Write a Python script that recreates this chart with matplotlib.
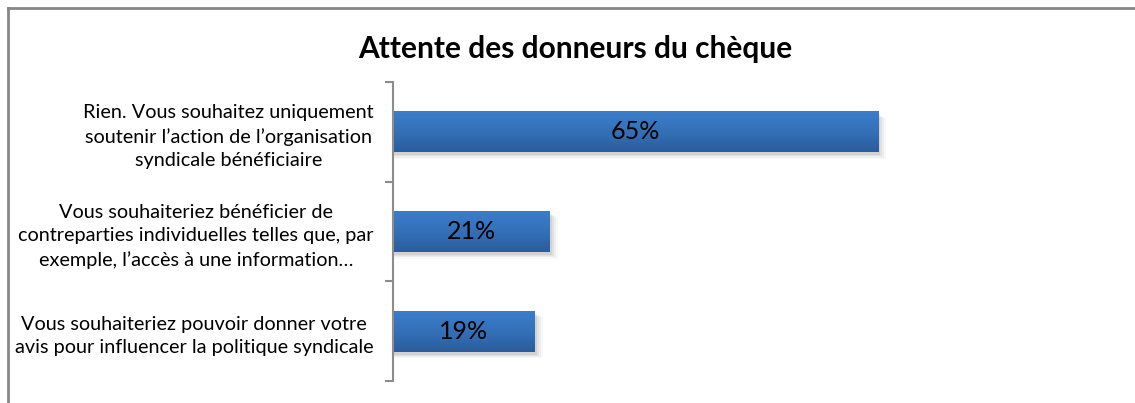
import matplotlib
matplotlib.use("Agg")
import matplotlib.pyplot as plt
import numpy as np
from matplotlib.colors import LinearSegmentedColormap
from matplotlib.patches import Rectangle
from matplotlib.lines import Line2D

# data
categories = [
    "Rien. Vous souhaitez uniquement\nsoutenir l\u2019action de l\u2019organisation\nsyndicale b\u00e9n\u00e9ficiaire",
    "Vous souhaiteriez b\u00e9n\u00e9ficier de\ncontreparties individuelles telles que, par\nexemple, l\u2019acc\u00e8s \u00e0 une information\u2026",
    "Vous souhaiteriez pouvoir donner votre\navis pour influencer la politique syndicale",
]
values = [65, 21, 19]
labels = ["65%", "21%", "19%"]
title = "Attente des donneurs du ch\u00e8que"

plt.rcParams['font.family'] = ['Lato', 'DejaVu Sans']

fig = plt.figure(figsize=(11.35, 4.03), dpi=100)
W, H = 1135, 403
px = 7.465  # pixels per percent
left_px, top_px, bot_px, right_px = 393, 82, 381, 1125
ax = fig.add_axes([left_px / W, 1 - bot_px / H, (right_px - left_px) / W, (bot_px - top_px) / H])

# outer chart frame (top and left edges visible)
fig.add_artist(Line2D([8 / W, 1], [1 - 8 / H, 1 - 8 / H], color="#878787", lw=2, transform=fig.transFigure))
fig.add_artist(Line2D([8 / W, 8 / W], [0, 1 - 8 / H], color="#878787", lw=2, transform=fig.transFigure))

cmap = LinearSegmentedColormap.from_list("bar", ["#3B7DCB", "#3470B8", "#2B5C9C"])
grad = np.linspace(0, 1, 100).reshape(-1, 1)
bh = 0.41

for i, v in enumerate(values):
    # soft shadow
    for k, a in enumerate([0.10, 0.08, 0.06, 0.04]):
        off = 0.3 + 0.25 * k
        ax.add_patch(Rectangle((0, i - bh / 2 + 0.03 + 0.012 * k), v + off, bh,
                               facecolor="#555555", alpha=a, edgecolor="none", zorder=1))
    ax.imshow(grad, cmap=cmap, aspect="auto", extent=(0, v, i + bh / 2, i - bh / 2),
              zorder=2, interpolation="bilinear")
    ax.text(v / 2, i, labels[i], ha="center", va="center", fontsize=18, color="black", zorder=3)

ax.set_xlim(0, (right_px - left_px) / px)
ax.set_ylim(2.5, -0.5)

for s in ["top", "right", "bottom"]:
    ax.spines[s].set_visible(False)
ax.spines["left"].set_color("#8c8c8c")
ax.spines["left"].set_linewidth(1.5)
ax.set_xticks([])
ax.set_yticks([-0.5, 0.5, 1.5, 2.5])
ax.set_yticklabels([])
ax.tick_params(axis="y", length=6, width=1.5, color="#8c8c8c")
ax.set_yticks([0, 1, 2], minor=True)
ax.set_yticklabels(categories, minor=True, fontsize=14.3, ha="right", multialignment="center",
                   linespacing=1.45)
ax.tick_params(axis="y", which="minor", length=0, pad=14)

fig.text(575 / W, 1 - 49 / H, title, ha="center", va="center", fontsize=21.5, fontweight="bold")

fig.savefig("out.png", dpi=100)
